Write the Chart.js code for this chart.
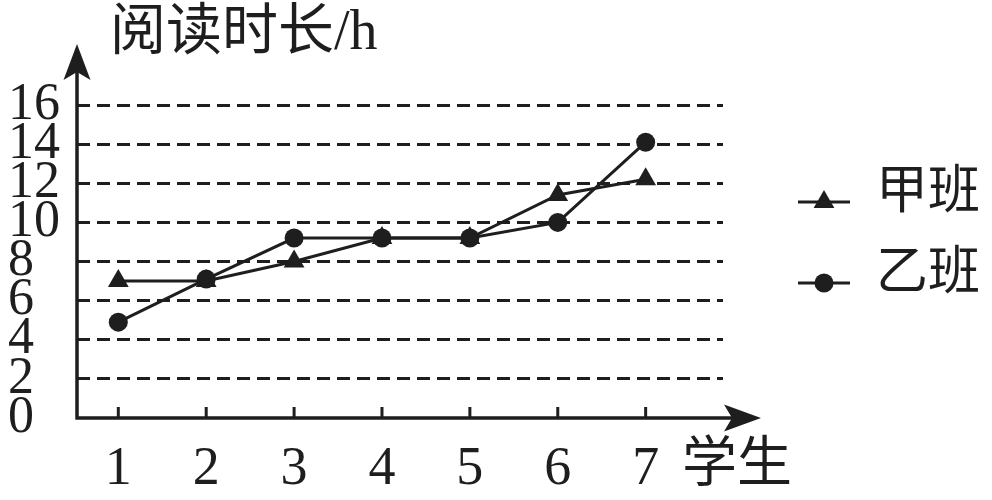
<!DOCTYPE html>
<html>
<head>
<meta charset="utf-8">
<title>阅读时长</title>
<script src="https://cdn.jsdelivr.net/npm/chart.js@4.4.1/dist/chart.umd.min.js"></script>
<style>
  html, body { margin: 0; padding: 0; background: #fff; }
  #wrap { width: 992px; height: 500px; position: relative; }
</style>
</head>
<body>
<div id="wrap"><canvas id="readChart"></canvas></div>
<script>
// data
const students = ["1", "2", "3", "4", "5", "6", "7"];
const seriesNames = ["甲班", "乙班"];
const classA = [7, 7, 8, 9.2, 9.2, 11.4, 12.2];
const classB = [4.9, 7.1, 9.2, 9.2, 9.2, 10, 14.1];
const yTicks = [0, 2, 4, 6, 8, 10, 12, 14, 16];
const yTitle = "阅读时长/h";
const xTitle = "学生";

const INK = "#1e1e1e";
const FONT = '"Liberation Serif", "Noto Sans CJK SC", serif';

function toPoints(values) {
  return values.map(function (v, i) { return { x: i + 1, y: v }; });
}

// axes with arrows, small ticks on x axis, titles and legend
const decor = {
  id: "decor",
  afterDraw: function (chart) {
    const ctx = chart.ctx;
    const a = chart.chartArea;
    const xs = chart.scales.x;
    ctx.save();
    ctx.strokeStyle = INK;
    ctx.fillStyle = INK;
    ctx.lineWidth = 3.5;
    ctx.lineCap = "butt";

    ctx.beginPath();
    ctx.moveTo(a.left, a.bottom + 1.5);
    ctx.lineTo(a.left, 70);
    ctx.moveTo(a.left - 1.5, a.bottom);
    ctx.lineTo(740, a.bottom);
    ctx.stroke();

    // arrow heads
    ctx.beginPath();
    ctx.moveTo(a.left, 44);
    ctx.lineTo(a.left - 13.5, 80);
    ctx.lineTo(a.left, 72);
    ctx.lineTo(a.left + 13.5, 80);
    ctx.closePath();
    ctx.fill();
    ctx.beginPath();
    ctx.moveTo(761, a.bottom);
    ctx.lineTo(724, a.bottom - 13.5);
    ctx.lineTo(732, a.bottom);
    ctx.lineTo(724, a.bottom + 13.5);
    ctx.closePath();
    ctx.fill();

    // tick marks above the x axis
    ctx.lineWidth = 3;
    xs.ticks.forEach(function (t) {
      const px = xs.getPixelForValue(t.value);
      ctx.beginPath();
      ctx.moveTo(px, a.bottom);
      ctx.lineTo(px, a.bottom - 11);
      ctx.stroke();
    });

    // titles
    ctx.textBaseline = "middle";
    ctx.textAlign = "left";
    ctx.font = "56px " + FONT;
    ctx.fillText(yTitle, 110, 34);
    ctx.font = "55px " + FONT;
    ctx.fillText(xTitle, 682, 467);

    // legend
    ctx.font = "52px " + FONT;
    chart.data.datasets.forEach(function (ds, i) {
      const cy = 202 + i * 81;
      ctx.lineWidth = 3;
      ctx.beginPath();
      ctx.moveTo(798, cy);
      ctx.lineTo(850, cy);
      ctx.stroke();
      Chart.helpers.drawPoint(ctx, {
        pointStyle: ds.pointStyle,
        radius: ds.pointRadius,
        rotation: 0,
        borderWidth: 0
      }, 824, cy);
      ctx.fillText(ds.label, 876, cy - 8);
    });
    ctx.restore();
  }
};

new Chart(document.getElementById("readChart").getContext("2d"), {
  type: "line",
  data: {
    datasets: [
      {
        label: seriesNames[0],
        data: toPoints(classA),
        borderColor: INK,
        backgroundColor: INK,
        borderWidth: 3,
        pointStyle: "triangle",
        pointRadius: 12,
        pointBorderWidth: 0,
        pointBackgroundColor: INK,
        tension: 0
      },
      {
        label: seriesNames[1],
        data: toPoints(classB),
        borderColor: INK,
        backgroundColor: INK,
        borderWidth: 3,
        pointStyle: "circle",
        pointRadius: 9.5,
        pointBorderWidth: 0,
        pointBackgroundColor: INK,
        tension: 0
      }
    ]
  },
  options: {
    responsive: true,
    maintainAspectRatio: false,
    animation: false,
    events: [],
    layout: {
      padding: { top: 105, left: 8, right: 269, bottom: 15 }
    },
    plugins: {
      legend: { display: false },
      tooltip: { enabled: false }
    },
    scales: {
      x: {
        type: "linear",
        min: 0.53,
        max: 7.88,
        grid: { display: false },
        border: { display: false },
        afterBuildTicks: function (s) {
          s.ticks = students.map(function (_, i) { return { value: i + 1 }; });
        },
        afterFit: function (s) { s.height = 67; },
        ticks: {
          autoSkip: false,
          maxRotation: 0,
          padding: 11,
          color: INK,
          font: { family: FONT, size: 54 },
          callback: function (v) { return students[v - 1]; }
        }
      },
      y: {
        min: 0,
        max: 16,
        afterBuildTicks: function (s) {
          s.ticks = yTicks.map(function (v) { return { value: v }; });
        },
        afterFit: function (s) { s.width = 69; },
        grid: {
          drawTicks: false,
          lineWidth: 3,
          color: function (c) { return c.tick && c.tick.value === 0 ? "rgba(0,0,0,0)" : INK; }
        },
        border: { display: false, dash: [13, 7] },
        ticks: {
          autoSkip: false,
          crossAlign: "far",
          padding: 0,
          color: INK,
          font: { family: FONT, size: 52 }
        }
      }
    }
  },
  plugins: [decor]
});
</script>
</body>
</html>
